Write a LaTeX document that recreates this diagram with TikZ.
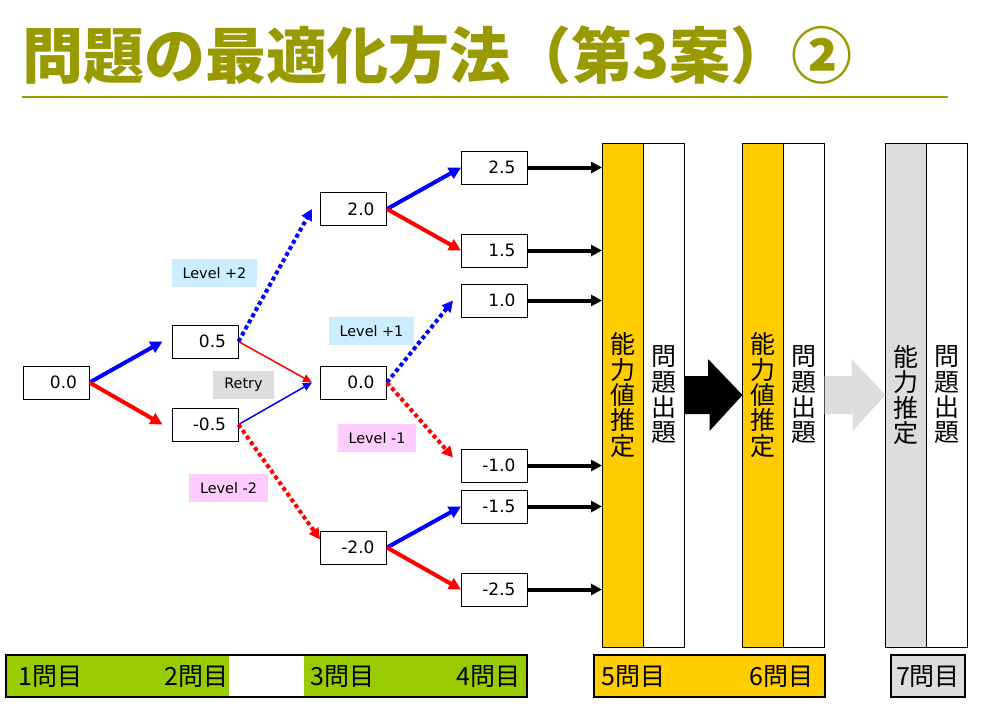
\documentclass[tikz,border=0pt]{standalone}
\usepackage{fontspec}
\setmainfont{DejaVu Sans}
\newfontfamily\jpfont{Noto Sans CJK JP}
\usetikzlibrary{shapes,arrows.meta,positioning}
\definecolor{titleolive}{HTML}{999900}
\definecolor{amber}{HTML}{FFCC00}
\definecolor{lime}{HTML}{99CC00}
\definecolor{lightgrey}{HTML}{DDDDDD}
\definecolor{skyblue}{HTML}{CCECFF}
\definecolor{pinkish}{HTML}{FFCCFF}

\begin{document}
\begin{tikzpicture}[x=1pt, y=-1pt,
	box/.style={draw, line width=1pt, fill=white, minimum height=33pt, text width=42pt, inner xsep=12pt, inner ysep=0pt, align=right, font=\fontsize{17}{20}\selectfont},
	tag/.style={minimum height=28pt, inner xsep=11pt, inner ysep=0pt, font=\fontsize{14.4}{17}\selectfont},
	col/.style={draw, line width=1pt, minimum width=41pt, minimum height=504pt, inner sep=0pt, outer sep=0pt, align=center, font=\jpfont\fontsize{25}{25.3}\selectfont},
	bar/.style={inner sep=0pt, font=\jpfont\fontsize{25}{28}\selectfont},
	fat/.style={line width=4pt, -{Triangle[length=12pt,width=12pt]}},
	slim/.style={line width=1.5pt, -{Triangle[length=9pt,width=8pt]}},
	dots/.style={line width=4pt, dash pattern=on 4pt off 3pt, -{Triangle[length=11pt,width=11pt]}}
	]
	\useasboundingbox (0,0) rectangle (984,710);
	% title
	\node (title) [anchor=west, inner sep=0pt, text=titleolive, font=\jpfont\bfseries\fontsize{61}{61}\selectfont] at (22,55) {問題の最適化方法（第3案）②};
	\draw [titleolive, line width=2.5pt] (22,97) -- (948,97);

	% tree
	\node (r00) [box] at (56,382.5) {0.0};
	\node (p05) [box] at (205,341.5) {0.5};
	\node (m05) [box] at (205,424.5) {-0.5};
	\node (p20) [box] at (353.5,209) {2.0};
	\node (c00) [box] at (353.5,382.5) {0.0};
	\node (m20) [box] at (353.5,547.5) {-2.0};
	\node (p25) [box] at (494.5,167.5) {2.5};
	\node (p15) [box] at (494.5,250.5) {1.5};
	\node (p10) [box] at (494.5,300.5) {1.0};
	\node (m10) [box] at (494.5,465.5) {-1.0};
	\node (m15) [box] at (494.5,506.5) {-1.5};
	\node (m25) [box] at (494.5,589.5) {-2.5};

	\node (lvp2) [tag, fill=skyblue] at (214.5,273) {Level +2};
	\node (lvp1) [tag, fill=skyblue] at (371.5,331) {Level +1};
	\node (retry) [tag, fill=lightgrey] at (243.5,385) {Retry};
	\node (lvm1) [tag, fill=pinkish] at (377,438) {Level -1};
	\node (lvm2) [tag, fill=pinkish] at (228.5,488) {Level -2};

	\draw [fat, draw=blue] (r00.east) -- ([xshift=-9pt]p05.west);
	\draw [fat, draw=red] (r00.east) -- ([xshift=-9pt]m05.west);
	\draw [slim, draw=red] (p05.east) -- ([xshift=-8pt]c00.west);
	\draw [slim, draw=blue] (m05.east) -- ([xshift=-8pt]c00.west);
	\draw [dots, draw=blue] (p05.east) -- ([xshift=-8pt]p20.west);
	\draw [dots, draw=red] (m05.east) -- ([yshift=8pt]m20.west);
	\draw [dots, draw=blue] (c00.east) -- ([xshift=-8pt]p10.west);
	\draw [dots, draw=red] (c00.east) -- ([xshift=-8pt,yshift=8pt]m10.west);
	\draw [fat, draw=blue] (p20.east) -- (p25.west);
	\draw [fat, draw=red] (p20.east) -- (p15.west);
	\draw [fat, draw=blue] (m20.east) -- (m15.west);
	\draw [fat, draw=red] (m20.east) -- (m25.west);

	% columns
	\node (y1) [col, fill=amber] at (622.5,395) {能\\力\\値\\推\\定};
	\node (w1) [col, fill=white, right=0pt of y1] {問\\題\\出\\題};
	\node (y2) [col, fill=amber] at (763,395) {能\\力\\値\\推\\定};
	\node (w2) [col, fill=white, right=0pt of y2] {問\\題\\出\\題};
	\node (g3) [col, fill=lightgrey] at (906,395) {能\\力\\推\\定};
	\node (w3) [col, fill=white, right=0pt of g3] {問\\題\\出\\題};

	\foreach \leaf in {p25,p15,p10,m10,m15,m25}
		\draw [fat, draw=black, -{Triangle[length=11pt,width=11pt]}] (\leaf.east) -- (\leaf.east -| y1.west);

	\fill [black] ([yshift=19pt]w1.east) -- ++(24,0) -- ++(0,-17) -- (y2.west) -- ++(-33,36) -- ++(0,-17) -- ([yshift=-19pt]w1.east) -- cycle;
	\fill [lightgrey] ([yshift=19pt]w2.east) -- ++(27,0) -- ++(0,-17) -- (g3.west) -- ++(-33,36) -- ++(0,-17) -- ([yshift=-19pt]w2.east) -- cycle;

	% question bar
	\fill [lime] (6,655) rectangle (527,697);
	\fill [white] (229,655) rectangle (304,697);
	\draw [line width=1.2pt] (6,655) rectangle (527,697);
	\fill [amber] (594,655) rectangle (825,697);
	\draw [line width=1.2pt] (594,655) rectangle (825,697);
	\fill [lightgrey] (891,655) rectangle (965,697);
	\draw [line width=1.2pt] (891,655) rectangle (965,697);

	\node (q1) [bar, anchor=west] at (18,677) {1問目};
	\node (q2) [bar, anchor=east] at (229,677) {2問目};
	\node (q3) [bar, anchor=west] at (310,677) {3問目};
	\node (q4) [bar, anchor=east] at (521,677) {4問目};
	\node (q5) [bar, anchor=west] at (601,677) {5問目};
	\node (q6) [bar, anchor=east] at (814,677) {6問目};
	\node (q7) [bar] at (928,677) {7問目};
\end{tikzpicture}
\end{document}
